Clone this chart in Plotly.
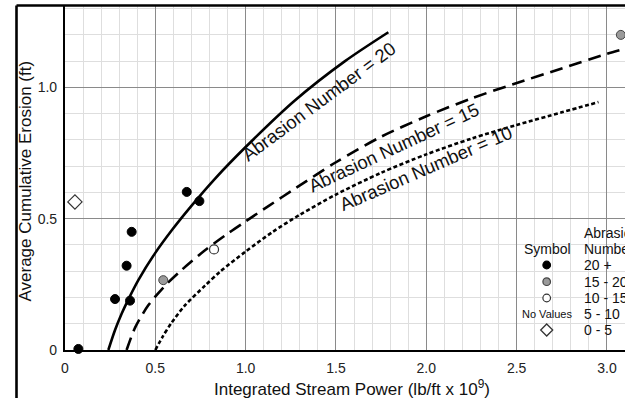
import plotly.graph_objects as go

# ---- data ----
an20_x = [0.24, 0.277, 0.314, 0.351, 0.406, 0.498, 0.591, 0.701, 0.831, 1.0, 1.274, 1.55, 1.79]
an20_y = [0.0, 0.076, 0.139, 0.193, 0.266, 0.368, 0.456, 0.55, 0.653, 0.773, 0.951, 1.1, 1.21]

an15_x = [0.341, 0.388, 0.461, 0.554, 0.646, 0.775, 0.904, 1.0, 1.126, 1.274, 1.5, 1.744, 2.0, 2.25, 2.48, 2.75, 3.0, 3.1]
an15_y = [0.0, 0.085, 0.17, 0.245, 0.305, 0.38, 0.445, 0.49, 0.548, 0.615, 0.715, 0.81, 0.89, 0.958, 1.012, 1.072, 1.128, 1.147]

an10_x = [0.5, 0.54, 0.591, 0.664, 0.775, 0.858, 1.0, 1.15, 1.3, 1.5, 1.75, 2.0, 2.25, 2.5, 2.75, 2.953]
an10_y = [0.0, 0.05, 0.105, 0.17, 0.245, 0.298, 0.375, 0.45, 0.515, 0.592, 0.675, 0.745, 0.805, 0.857, 0.905, 0.944]

pts_20plus_x = [0.074, 0.277, 0.341, 0.369, 0.36, 0.674, 0.744]
pts_20plus_y = [0.004, 0.194, 0.321, 0.45, 0.188, 0.602, 0.567]
pts_15_20_x = [0.544, 3.077]
pts_15_20_y = [0.266, 1.20]
pts_10_15_x = [0.825]
pts_10_15_y = [0.383]
pts_0_5_x = [0.055]
pts_0_5_y = [0.564]

curve_labels = ["Abrasion Number = 20", "Abrasion Number = 15", "Abrasion Number = 10"]
label_x = [1.405, 1.821, 1.996]
label_y = [0.947, 0.771, 0.692]
label_angle = [-36.5, -25, -23.5]

x_ticks = [0, 0.5, 1.0, 1.5, 2.0, 2.5, 3.0]
x_ticktext = ["0", "0.5", "1.0", "1.5", "2.0", "2.5", "3.0"]
y_ticks = [0, 0.5, 1.0]
y_ticktext = ["0", "0.5", "1.0"]

legend_ranges = ["20 +", "15 - 20", "10 - 15", "5 - 10", "0 - 5"]

FONT = "Liberation Sans, Arial, sans-serif"

fig = go.Figure()

fig.add_trace(go.Scatter(x=an20_x, y=an20_y, mode="lines",
                         line=dict(color="black", width=2.6, shape="spline", smoothing=0.8)))
fig.add_trace(go.Scatter(x=an15_x, y=an15_y, mode="lines",
                         line=dict(color="black", width=2.6, shape="spline", smoothing=0.8,
                                   dash="13px,7px")))
fig.add_trace(go.Scatter(x=an10_x, y=an10_y, mode="lines",
                         line=dict(color="black", width=2.6, shape="spline", smoothing=0.8,
                                   dash="4px,2.5px")))

fig.add_trace(go.Scatter(x=pts_20plus_x, y=pts_20plus_y, mode="markers", cliponaxis=False,
                         marker=dict(symbol="circle", size=9, color="black",
                                     line=dict(color="black", width=1))))
fig.add_trace(go.Scatter(x=pts_15_20_x, y=pts_15_20_y, mode="markers", cliponaxis=False,
                         marker=dict(symbol="circle", size=9, color="#9a9a9a",
                                     line=dict(color="#444444", width=1))))
fig.add_trace(go.Scatter(x=pts_10_15_x, y=pts_10_15_y, mode="markers", cliponaxis=False,
                         marker=dict(symbol="circle", size=9, color="white",
                                     line=dict(color="#333333", width=1.2))))
fig.add_trace(go.Scatter(x=pts_0_5_x, y=pts_0_5_y, mode="markers", cliponaxis=False,
                         marker=dict(symbol="diamond", size=11, color="white",
                                     line=dict(color="#333333", width=1.2))))

annotations = []
for t, lx, ly, ang in zip(curve_labels, label_x, label_y, label_angle):
    annotations.append(dict(x=lx, y=ly, xref="x", yref="y", text=t, showarrow=False,
                            textangle=ang, font=dict(family=FONT, size=18.5, color="#111111"),
                            xanchor="center", yanchor="middle"))


def px(xp):
    return (xp - 65) / 560


def py(yp):
    return (350 - yp) / 344


# axis titles
annotations.append(dict(x=px(352), y=py(388), xref="paper", yref="paper",
                        text="Integrated Stream Power (lb/ft x 10<sup>9</sup>)", showarrow=False,
                        font=dict(family=FONT, size=17, color="#111111"),
                        xanchor="center", yanchor="middle"))
annotations.append(dict(x=px(25), y=py(181.5), xref="paper", yref="paper",
                        text="Average Cumulative Erosion (ft)", showarrow=False, textangle=-90,
                        font=dict(family=FONT, size=17, color="#111111"),
                        xanchor="center", yanchor="middle"))

# legend texts
annotations.append(dict(x=px(547.7), y=py(249), xref="paper", yref="paper", text="Symbol",
                        showarrow=False, font=dict(family=FONT, size=14, color="#111111"),
                        xanchor="center", yanchor="middle"))
annotations.append(dict(x=px(582), y=py(233), xref="paper", yref="paper", text="Abrasion",
                        showarrow=False, font=dict(family=FONT, size=14, color="#111111"),
                        xanchor="left", yanchor="middle"))
annotations.append(dict(x=px(582), y=py(249), xref="paper", yref="paper", text="Number",
                        showarrow=False, font=dict(family=FONT, size=14, color="#111111"),
                        xanchor="left", yanchor="middle"))
row_y = [265, 281.7, 298, 313.5, 330]
for t, ry in zip(legend_ranges, row_y):
    annotations.append(dict(x=px(582), y=py(ry), xref="paper", yref="paper", text=t,
                            showarrow=False, font=dict(family=FONT, size=14, color="#111111"),
                            xanchor="left", yanchor="middle"))
annotations.append(dict(x=px(547), y=py(313.5), xref="paper", yref="paper", text="No Values",
                        showarrow=False, font=dict(family=FONT, size=11, color="#111111"),
                        xanchor="center", yanchor="middle"))

shapes = []
# white legend box (between grid and traces)
shapes.append(dict(type="rect", xref="paper", yref="paper", x0=px(518), x1=1.0,
                   y0=py(341), y1=py(221), fillcolor="white", line=dict(width=0), layer="between"))
# legend symbols
sym_x = px(546.7)


def circ(yp, fill, outline, r):
    return dict(type="circle", xref="paper", yref="paper", xsizemode="pixel", ysizemode="pixel",
                xanchor=sym_x, yanchor=py(yp), x0=-r, x1=r, y0=-r, y1=r,
                fillcolor=fill, line=dict(color=outline, width=1.2), layer="above")


shapes.append(circ(265, "black", "black", 3.8))
shapes.append(circ(281.7, "#9a9a9a", "#444444", 3.8))
shapes.append(circ(298, "white", "#333333", 3.8))
shapes.append(dict(type="path", xref="paper", yref="paper", xsizemode="pixel", ysizemode="pixel",
                   xanchor=sym_x, yanchor=py(330), path="M 0 6 L 6 0 L 0 -6 L -6 0 Z",
                   fillcolor="white", line=dict(color="#333333", width=1.3), layer="above"))
# outer frame lines
shapes.append(dict(type="line", xref="paper", yref="paper", x0=px(16.5), x1=1.05,
                   y0=py(5.5), y1=py(5.5), line=dict(color="black", width=2.6), layer="above"))
shapes.append(dict(type="line", xref="paper", yref="paper", x0=px(16.5), x1=px(16.5),
                   y0=py(5.5), y1=py(420), line=dict(color="black", width=2.6), layer="above"))

fig.update_layout(
    width=625, height=398,
    margin=dict(l=65, r=0, t=6, b=48, pad=0),
    paper_bgcolor="white", plot_bgcolor="white",
    showlegend=False,
    annotations=annotations,
    shapes=shapes,
    font=dict(family=FONT, size=14, color="#111111"),
)
fig.update_xaxes(range=[0, 3.1], tickvals=x_ticks, ticktext=x_ticktext,
                 showgrid=True, gridcolor="#8a8a8a", gridwidth=1.2,
                 minor=dict(dtick=0.1, showgrid=True, gridcolor="#dedede", gridwidth=1),
                 showline=True, linecolor="black", linewidth=2.2,
                 ticks="outside", ticklen=4, tickcolor="rgba(0,0,0,0)",
                 tickfont=dict(family=FONT, size=14, color="#222222"), zeroline=False)
fig.update_yaxes(range=[0, 1.31], tickvals=y_ticks, ticktext=y_ticktext,
                 showgrid=True, gridcolor="#8a8a8a", gridwidth=1.2,
                 minor=dict(dtick=0.1, showgrid=True, gridcolor="#dedede", gridwidth=1),
                 showline=True, linecolor="black", linewidth=2.2,
                 ticks="outside", ticklen=3, tickcolor="rgba(0,0,0,0)",
                 tickfont=dict(family=FONT, size=14, color="#222222"), zeroline=False)

fig.write_html("out.html", config={"displayModeBar": False},
               post_script="document.body.style.margin='0';document.body.style.overflow='hidden';")
